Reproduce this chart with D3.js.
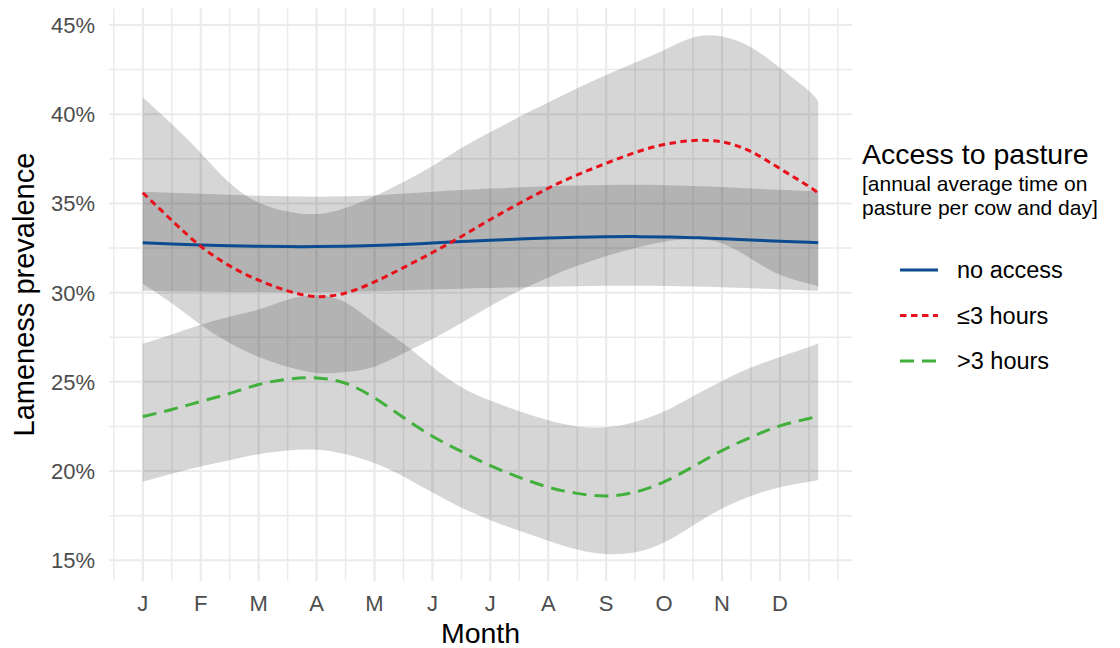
<!DOCTYPE html>
<html>
<head>
<meta charset="utf-8">
<script src="https://cdn.jsdelivr.net/npm/d3@7"></script>
<style>
  html, body { margin: 0; padding: 0; background: #fff; }
  svg { display: block; font-family: "Liberation Sans", Arial, sans-serif; }
</style>
</head>
<body>
<svg id="chart" width="1120" height="648"></svg>
<script>
// ---- Data ----
const monthLabels = ["J","F","M","A","M","J","J","A","S","O","N","D"];
const monthTicks = [1,2,3,4,5,6,7,8,9,10,11,12];
const yTicks = [15,20,25,30,35,40,45];
const months = [1,1.5,2,2.5,3,3.5,4,4.5,5,5.5,6,6.5,7,7.5,8,8.5,9,9.5,10,10.5,11,11.5,12,12.5,12.66];

const noAccessFit   = [32.8,32.72,32.67,32.63,32.6,32.58,32.58,32.6,32.64,32.7,32.78,32.86,32.94,33.0,33.06,33.1,33.13,33.14,33.12,33.08,33.02,32.95,32.88,32.82,32.8];
const noAccessUpper = [35.66,35.6,35.54,35.48,35.43,35.4,35.38,35.4,35.45,35.55,35.65,35.75,35.83,35.9,35.96,36.0,36.03,36.04,36.02,35.98,35.92,35.84,35.76,35.69,35.66];
const noAccessLower = [30.1,30.08,30.06,30.04,30.03,30.02,30.02,30.05,30.08,30.12,30.17,30.22,30.26,30.3,30.33,30.36,30.38,30.38,30.37,30.34,30.3,30.24,30.18,30.12,30.1];

const le3Fit   = [35.6,34.05,32.6,31.5,30.7,30.1,29.78,29.98,30.6,31.4,32.25,33.15,34.1,35.0,35.85,36.6,37.25,37.85,38.3,38.52,38.45,37.9,36.95,35.95,35.57];
const le3Upper = [40.95,39.45,37.83,36.15,35.05,34.54,34.4,34.75,35.4,36.2,37.1,38.1,39.0,39.85,40.65,41.45,42.2,42.9,43.6,44.3,44.35,43.75,42.6,41.3,40.7];
const le3Lower = [30.5,29.4,28.2,27.18,26.4,25.85,25.5,25.55,25.85,26.6,27.4,28.3,29.25,30.1,30.85,31.5,32.05,32.5,32.85,33.0,32.75,31.9,31.0,30.5,30.34];

const gt3Fit   = [23.05,23.45,23.9,24.35,24.85,25.15,25.22,24.92,24.1,23.0,21.95,21.1,20.3,19.65,19.1,18.75,18.6,18.82,19.4,20.25,21.15,21.9,22.53,22.95,23.1];
const gt3Upper = [27.13,27.65,28.2,28.65,29.05,29.6,29.85,29.45,28.3,27.15,25.85,24.7,23.95,23.35,22.85,22.5,22.45,22.75,23.35,24.2,25.05,25.8,26.4,26.95,27.16];
const gt3Lower = [19.4,19.85,20.25,20.6,20.95,21.15,21.2,20.95,20.45,19.7,18.8,17.95,17.25,16.65,16.1,15.6,15.35,15.45,16.0,16.95,17.9,18.6,19.1,19.4,19.5];

const seriesNames = ["no access", "\u22643 hours", ">3 hours"];
const seriesColors = ["#0b4b8f", "#e8101a", "#42b03d"];
const seriesDash = [null, "6.5,4.5", "14,8"];

// ---- Layout ----
const svg = d3.select("#chart");
const x = d3.scaleLinear().domain([0.417, 13.243]).range([109, 852]);
const y = d3.scaleLinear().domain([13.84, 45.94]).range([581, 8.2]);
const [px0, px1] = x.range();
const [py0, py1] = y.range();

// Grid: minor then major
const xMinor = d3.range(0.5, 13.01, 0.5);
const yMinor = d3.range(17.5, 45, 5);
const grid = svg.append("g");
grid.selectAll(".xminor").data(xMinor).join("line")
  .attr("x1", d => x(d)).attr("x2", d => x(d))
  .attr("y1", py0).attr("y2", py1)
  .attr("stroke", "#ebebeb").attr("stroke-width", 1.5);
grid.selectAll(".yminor").data(yMinor).join("line")
  .attr("x1", px0).attr("x2", px1)
  .attr("y1", d => y(d)).attr("y2", d => y(d))
  .attr("stroke", "#ebebeb").attr("stroke-width", 1.5);
grid.selectAll(".xmajor").data(monthTicks).join("line")
  .attr("x1", d => x(d)).attr("x2", d => x(d))
  .attr("y1", py0).attr("y2", py1)
  .attr("stroke", "#ebebeb").attr("stroke-width", 2);
grid.selectAll(".ymajor").data(yTicks).join("line")
  .attr("x1", px0).attr("x2", px1)
  .attr("y1", d => y(d)).attr("y2", d => y(d))
  .attr("stroke", "#ebebeb").attr("stroke-width", 2);

// Ribbons
const bands = [
  {lo: noAccessLower, hi: noAccessUpper},
  {lo: le3Lower, hi: le3Upper},
  {lo: gt3Lower, hi: gt3Upper}
];
const area = d3.area()
  .x(d => x(d.m)).y0(d => y(d.lo)).y1(d => y(d.hi))
  .curve(d3.curveNatural);
svg.append("g").selectAll("path").data(bands).join("path")
  .attr("d", b => area(months.map((m, i) => ({m, lo: b.lo[i], hi: b.hi[i]}))))
  .attr("fill", "#000").attr("fill-opacity", 0.16);

// Lines
const fits = [noAccessFit, le3Fit, gt3Fit];
const line = d3.line().x(d => x(d.m)).y(d => y(d.v)).curve(d3.curveNatural);
svg.append("g").selectAll("path").data(fits).join("path")
  .attr("d", f => line(months.map((m, i) => ({m, v: f[i]}))))
  .attr("fill", "none")
  .attr("stroke", (f, i) => seriesColors[i])
  .attr("stroke-width", 3)
  .attr("stroke-dasharray", (f, i) => seriesDash[i]);

// Axes labels
svg.append("g").selectAll("text").data(yTicks).join("text")
  .attr("x", 95).attr("y", d => y(d)).attr("dy", "0.36em")
  .attr("text-anchor", "end").attr("font-size", 22).attr("fill", "#4d4d4d")
  .text(d => d + "%");
svg.append("g").selectAll("text").data(monthTicks).join("text")
  .attr("x", d => x(d)).attr("y", 611)
  .attr("text-anchor", "middle").attr("font-size", 22).attr("fill", "#4d4d4d")
  .text((d, i) => monthLabels[i]);

svg.append("text")
  .attr("x", (px0 + px1) / 2).attr("y", 643)
  .attr("text-anchor", "middle").attr("font-size", 28.5).attr("fill", "#000")
  .text("Month");
svg.append("text")
  .attr("transform", `translate(34,${(py0 + py1) / 2}) rotate(-90)`)
  .attr("text-anchor", "middle").attr("font-size", 29).attr("fill", "#000")
  .text("Lameness prevalence");

// Legend
const lg = svg.append("g");
lg.append("text").attr("x", 862).attr("y", 164)
  .attr("font-size", 28.5).attr("fill", "#000").text("Access to pasture");
lg.append("text").attr("x", 862).attr("y", 191)
  .attr("font-size", 21).attr("fill", "#000").text("[annual average time on");
lg.append("text").attr("x", 862).attr("y", 215)
  .attr("font-size", 21).attr("fill", "#000").text("pasture per cow and day]");
const items = lg.selectAll(".item").data(seriesNames).join("g")
  .attr("transform", (d, i) => `translate(0,${270 + i * 45.5})`);
items.append("line")
  .attr("x1", 900).attr("x2", 938).attr("y1", 0).attr("y2", 0)
  .attr("stroke", (d, i) => seriesColors[i]).attr("stroke-width", 3)
  .attr("stroke-dasharray", (d, i) => seriesDash[i]);
items.append("text").attr("x", 957).attr("y", 0).attr("dy", "0.36em")
  .attr("font-size", 23.5).attr("fill", "#000").text(d => d);
</script>
</body>
</html>
